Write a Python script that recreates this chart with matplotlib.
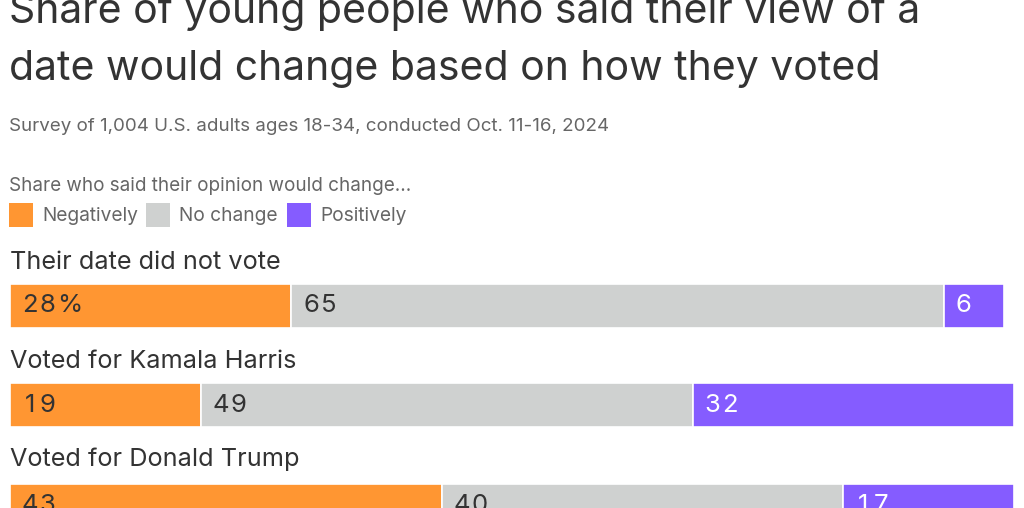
import matplotlib.pyplot as plt
from matplotlib.patches import Rectangle

W, H = 1024, 508

groups = ["Their date did not vote", "Voted for Kamala Harris", "Voted for Donald Trump"]
negatively = [28, 19, 43]
no_change = [65, 49, 40]
positively = [6, 32, 17]

series_names = ["Negatively", "No change", "Positively"]
series_colors = ["#FF9632", "#CFD1D0", "#855CFF"]
text_colors = ["#333333", "#333333", "#FFFFFF"]

title_lines = ["Share of young people who said their view of a",
               "date would change based on how they voted"]
subtitle = "Survey of 1,004 U.S. adults ages 18-34, conducted Oct. 11-16, 2024"
legend_title = "Share who said their opinion would change..."

plt.rcParams["font.family"] = ["Inter", "DejaVu Sans"]

fig = plt.figure(figsize=(W / 100, H / 100), dpi=100)


def px(x, y):
    return x / W, 1 - y / H


for line, base in zip(title_lines, [23, 80]):
    fig.text(*px(9, base), line, fontsize=29.5, color="#333333", va="baseline")
fig.text(*px(9, 131), subtitle, fontsize=13.5, color="#666666", va="baseline")
fig.text(*px(9, 191), legend_title, fontsize=13.6, color="#666666", va="baseline")

legend_x = [9, 146, 287]
for lx, name, color in zip(legend_x, series_names, series_colors):
    fig.patches.append(Rectangle(px(lx, 227), 24 / W, 24 / H, transform=fig.transFigure,
                                 facecolor=color, edgecolor="none"))
    fig.text(*px(lx + 33, 221), name, fontsize=13.8, color="#666666", va="baseline")

# bars: x in percent, y in pixel rows
ax = fig.add_axes([10 / W, 0, 1004 / W, 1])
ax.set_xlim(0, 100)
ax.set_ylim(H, 0)
ax.axis("off")

row_y = [305.5, 405, 506]
label_y = [269, 368, 466]
bar_h = 44
char_step = 1.74  # spaced digits, in percent units

for i, group in enumerate(groups):
    ax.text(0, label_y[i], group, fontsize=18.2, color="#333333", va="baseline")
    left = 0
    for j, vals in enumerate([negatively, no_change, positively]):
        v = vals[i]
        ax.barh(row_y[i], v, left=left, height=bar_h, color=series_colors[j],
                edgecolor="white", linewidth=1.2)
        label = f"{v}%" if (i == 0 and j == 0) else str(v)
        cx = left + 2.0
        for ch in label:
            if ch == "%":
                cx += 0.45
            ax.text(cx, row_y[i], ch, fontsize=18.5,
                    color=text_colors[j], va="center", ha="center")
            cx += char_step
        left += v

fig.savefig("out.png", dpi=100)
